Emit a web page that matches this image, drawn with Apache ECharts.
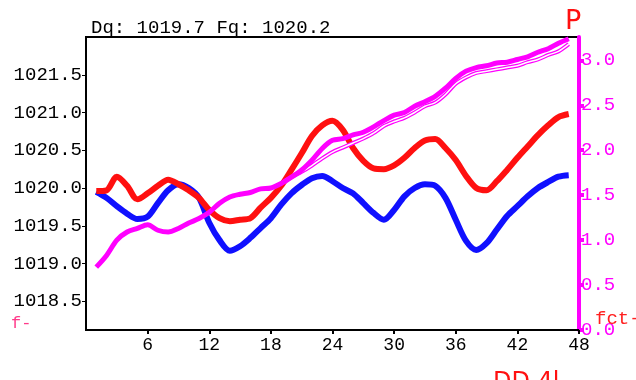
<!DOCTYPE html>
<html>
<head>
<meta charset="utf-8">
<script src="https://cdn.jsdelivr.net/npm/echarts@6/dist/echarts.min.js"></script>
<style>
    html, body { margin: 0; padding: 0; background: #fff; }
    #chart { width: 636px; height: 380px; }
</style>
</head>
<body>
<div id="chart"></div>
<script>
// 横轴 (小时)
var hours = [1,2,3,4,5,6,7,8,9,10,11,12,13,14,15,16,17,18,19,20,21,22,23,24,
             25,26,27,28,29,30,31,32,33,34,35,36,37,38,39,40,41,42,43,44,45,46,47];
// 红线 Fq
var fqVals = [1019.96,1019.97,1020.15,1020.03,1019.85,1019.93,1020.03,1020.11,1020.05,1019.97,
              1019.87,1019.71,1019.60,1019.56,1019.58,1019.60,1019.74,1019.87,1020.03,1020.24,
              1020.46,1020.69,1020.83,1020.89,1020.77,1020.53,1020.36,1020.26,1020.25,1020.30,
              1020.40,1020.53,1020.63,1020.65,1020.53,1020.37,1020.16,1020.00,1019.97,1020.09,
              1020.24,1020.40,1020.55,1020.70,1020.83,1020.94,1020.98];
// 蓝线 Dq
var dqVals = [1019.95,1019.87,1019.76,1019.66,1019.59,1019.62,1019.80,1019.97,1020.05,1020.00,
              1019.87,1019.54,1019.31,1019.17,1019.23,1019.34,1019.47,1019.60,1019.78,1019.93,
              1020.04,1020.13,1020.16,1020.09,1020.00,1019.93,1019.80,1019.67,1019.58,1019.71,
              1019.89,1020.00,1020.05,1020.03,1019.87,1019.58,1019.30,1019.18,1019.27,1019.45,
              1019.63,1019.76,1019.89,1020.00,1020.08,1020.15,1020.17];
// 粗品红线 P (右轴)
var pVals = [0.70,0.83,1.00,1.09,1.13,1.17,1.11,1.09,1.13,1.19,
             1.24,1.31,1.41,1.48,1.51,1.53,1.57,1.58,1.63,1.70,
             1.78,1.89,2.02,2.11,2.13,2.17,2.20,2.26,2.33,2.39,
             2.42,2.49,2.54,2.60,2.69,2.80,2.88,2.92,2.94,2.97,
             2.98,3.01,3.04,3.09,3.13,3.19,3.24];
// 细品红线 (前段与粗线重合, 不画)
var p2Vals = [null,null,null,null,null,null,null,null,null,null,
              null,null,null,null,null,null,null,null,1.63,1.70,
              1.76,1.83,1.91,1.98,2.03,2.08,2.13,2.19,2.27,2.32,
              2.36,2.42,2.49,2.53,2.62,2.74,2.81,2.86,2.88,2.90,
              2.92,2.94,2.98,3.01,3.06,3.10,3.18];
// 刻度
var leftTicks  = [1018.5,1019.0,1019.5,1020.0,1020.5,1021.0,1021.5];
var rightTicks = [0.0,0.5,1.0,1.5,2.0,2.5,3.0];

function pairs(ys) {
    var out = [];
    for (var i = 0; i < hours.length; i++) {
        out.push([hours[i], ys[i]]);
    }
    return out;
}

var FONT = '"Liberation Mono", "DejaVu Sans Mono", monospace';
var MAG = '#ff00ff';

var myChart = echarts.init(document.getElementById('chart'));
var option = {
    backgroundColor: '#fff',
    animation: false,
    title: [
        { text: 'Dq: 1019.7 Fq: 1020.2', left: 86, top: 13,
          textStyle: { fontFamily: FONT, fontSize: 19, fontWeight: 'normal', color: '#000' } },
        { text: 'P', left: 560, top: 3,
          textStyle: { fontFamily: 'DejaVu Sans', fontSize: 27, fontWeight: 'normal', color: '#ff1010' } },
        { text: 'fct-', left: 590, top: 304,
          textStyle: { fontFamily: FONT, fontSize: 19, fontWeight: 'normal', color: '#ff2020' } },
        { text: 'f-', left: 6, top: 310,
          textStyle: { fontFamily: FONT, fontSize: 17, fontWeight: 'normal', color: '#ff3a8a' } },
        { text: 'DD 4l', left: 488, top: 366,
          textStyle: { fontFamily: 'DejaVu Sans', fontSize: 24, fontWeight: 'normal', color: '#ff1010' } }
    ],
    grid: {
        left: 86, right: 57, top: 37, bottom: 50,
        show: true, borderColor: '#000', borderWidth: 2, backgroundColor: '#fff'
    },
    xAxis: {
        type: 'value', min: 0, max: 48, interval: 6,
        axisLine: { lineStyle: { color: '#000', width: 2 } },
        axisTick: { length: 4, lineStyle: { color: '#000', width: 2 } },
        axisLabel: { showMinLabel: false, color: '#000', fontFamily: FONT, fontSize: 18, margin: 6 },
        splitLine: { show: false }
    },
    yAxis: [
        {
            type: 'value', min: 1018.12, max: 1022.0, position: 'left',
            axisLine: { show: true, lineStyle: { color: '#000', width: 2 } },
            axisTick: { show: true, customValues: leftTicks, length: 4, lineStyle: { color: '#000', width: 1 } },
            axisLabel: {
                customValues: leftTicks, color: '#000', fontFamily: FONT, fontSize: 19, margin: 4,
                formatter: function (v) { return v.toFixed(1); }
            },
            splitLine: { show: false }
        },
        {
            type: 'value', min: 0, max: 3.26, position: 'right',
            axisLine: { show: true, lineStyle: { color: MAG, width: 4 } },
            axisTick: { show: true, customValues: rightTicks, length: 5, lineStyle: { color: MAG, width: 4 } },
            axisLabel: {
                customValues: rightTicks, color: MAG, fontFamily: FONT, fontSize: 19, margin: 2,
                formatter: function (v) { return v.toFixed(1); }
            },
            splitLine: { show: false }
        }
    ],
    series: [
        {
            name: 'Dq', type: 'line', yAxisIndex: 0, data: pairs(dqVals),
            showSymbol: false, smooth: 0.3,
            lineStyle: { color: '#1010ff', width: 6 }
        },
        {
            name: 'Fq', type: 'line', yAxisIndex: 0, data: pairs(fqVals),
            showSymbol: false, smooth: 0.3,
            lineStyle: { color: '#ff1010', width: 6 }
        },
        {
            name: 'P2', type: 'line', yAxisIndex: 1, data: pairs(p2Vals),
            showSymbol: false, smooth: 0.3,
            lineStyle: { color: MAG, width: 4 }
        },
        {
            name: 'P2in', type: 'line', yAxisIndex: 1, data: pairs(p2Vals),
            showSymbol: false, smooth: 0.3,
            lineStyle: { color: '#fff', width: 1.5 }
        },
        {
            name: 'P', type: 'line', yAxisIndex: 1, data: pairs(pVals),
            showSymbol: false, smooth: 0.3,
            lineStyle: { color: MAG, width: 5 }
        }
    ]
};
myChart.setOption(option);
</script>
</body>
</html>
